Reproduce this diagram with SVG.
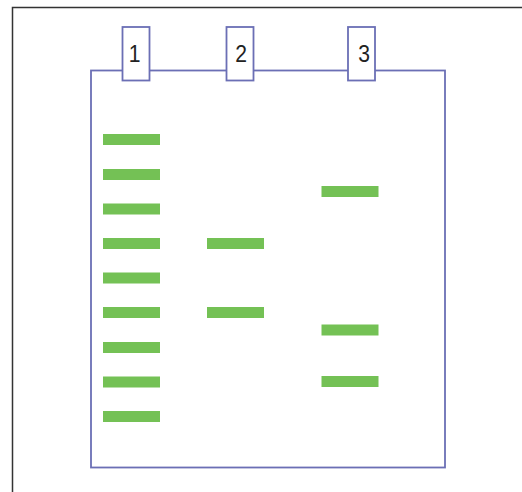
<svg xmlns="http://www.w3.org/2000/svg" width="522" height="492" viewBox="0 0 522 492">
<style>
.gel{fill:#fff;stroke:#6b6fb5;stroke-width:1.8}
.well{fill:#fff;stroke:#6b6fb5;stroke-width:1.8}
.band{fill:#74c155}
.lbl{font-family:"Liberation Sans",Arial,sans-serif;font-size:24px;fill:#222;text-anchor:middle}
</style>
<rect x="0" y="0" width="522" height="492" fill="#fff"/>
<rect x="12.5" y="7.5" width="520" height="500" fill="none" stroke="#333" stroke-width="1.5"/>
<g id="gel">
<rect class="gel" x="91" y="70.5" width="354" height="397"/>
</g>
<g id="well1"><rect class="well" x="122.5" y="27" width="27" height="53.5"/><text class="lbl" transform="translate(134.5,61.5) scale(0.88,1)">1</text></g>
<g id="well2"><rect class="well" x="226.5" y="27" width="27" height="53.5"/><text class="lbl" transform="translate(241,61.5) scale(0.88,1)">2</text></g>
<g id="well3"><rect class="well" x="348" y="27" width="27" height="53.5"/><text class="lbl" transform="translate(364,61.5) scale(0.88,1)">3</text></g>
<g id="lane1">
<rect class="band" x="103" y="134" width="57" height="11"/>
<rect class="band" x="103" y="169" width="57" height="11"/>
<rect class="band" x="103" y="203.5" width="57" height="11"/>
<rect class="band" x="103" y="238" width="57" height="11"/>
<rect class="band" x="103" y="272.5" width="57" height="11"/>
<rect class="band" x="103" y="307" width="57" height="11"/>
<rect class="band" x="103" y="342" width="57" height="11"/>
<rect class="band" x="103" y="376.5" width="57" height="11"/>
<rect class="band" x="103" y="411" width="57" height="11"/>
</g>
<g id="lane2">
<rect class="band" x="207" y="238" width="57" height="11"/>
<rect class="band" x="207" y="307" width="57" height="11"/>
</g>
<g id="lane3">
<rect class="band" x="321.5" y="186" width="57" height="11"/>
<rect class="band" x="321.5" y="324.5" width="57" height="11"/>
<rect class="band" x="321.5" y="376" width="57" height="11"/>
</g>
<g id="connectors"></g>
</svg>
